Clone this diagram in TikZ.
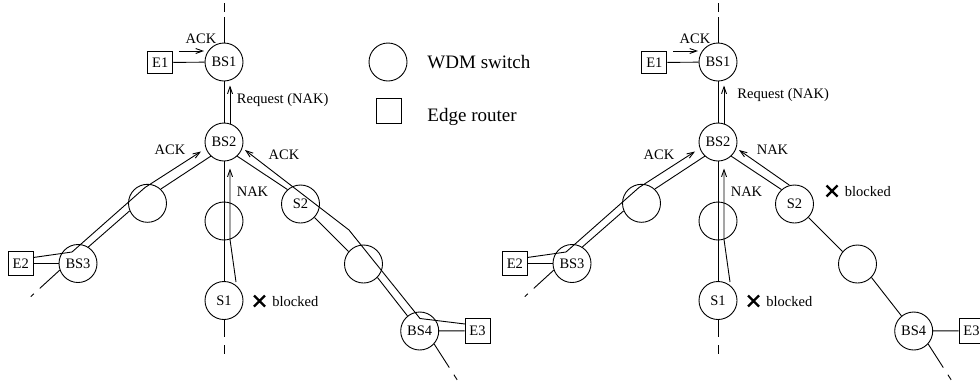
\documentclass[tikz,border=0pt]{standalone}
\usepackage{fontspec}
\setmainfont{Liberation Serif}
\usetikzlibrary{arrows.meta,calc}
\newcommand{\lblfont}{\fontsize{14.5}{17}\selectfont}
\newcommand{\legfont}{\fontsize{19}{22}\selectfont}
\tikzset{
  sw/.style={circle,draw,minimum size=38pt,inner sep=0pt,font=\lblfont},
  er/.style={rectangle,draw,minimum width=25pt,minimum height=24.5pt,inner sep=0pt,font=\lblfont},
  lbl/.style={inner sep=0pt,font=\lblfont},
  leg/.style={inner sep=0pt,font=\legfont,anchor=west},
  arr/.style={-{Straight Barb[length=7pt,width=5pt]}},
  xmark/.style={line width=2.2pt},
  extA/.style={dash pattern=on 26pt off 5pt on 8.5pt off 60pt},
  extB/.style={dash pattern=on 17.5pt off 8pt on 8.5pt off 60pt},
  extC/.style={dash pattern=on 27pt off 8pt on 5pt off 60pt},
  extD/.style={dash pattern=on 28pt off 8.5pt on 6pt off 60pt},
}
\newcommand{\netcommon}[1]{%
  % top part
  \node[sw] (#1BS1) at (224,62) {BS1};
  \node[er,minimum height=22pt] (#1E1) at (160.3,62.5) {E1};
  \draw[extA] (#1BS1.north) -- ++(0,-40);
  \draw (#1E1) -- (#1BS1);
  \coordinate (#1ackA) at (179,51);
  \coordinate (#1ackB) at (204,51);
  \draw[arr] (#1ackA) -- (#1ackB);
  \node[lbl] (#1ackT) at (201,39) {ACK};
  % BS2 and vertical branch
  \node[sw] (#1BS2) at (224,142) {BS2};
  \draw (#1BS1) -- (#1BS2);
  \draw[arr] (#1BS2.72) -- ($(#1BS1.-72)+(0,5)$);
  \node[sw] (#1M) at (224,221) {};
  \node[sw] (#1S1) at (224,300.5) {S1};
  \draw (#1BS2) -- (#1S1);
  \coordinate (#1nakS) at (236,282);
  \draw[arr] (#1nakS) -- (#1M.-72) -- ($(#1BS2.-72)+(0,8)$);
  \node[lbl] (#1nakT) at (252.5,192) {NAK};
  \draw[extB] (#1S1.south) -- ++(0,34);
  \draw[xmark] (254,295.5) -- (265,306.5) (254,306.5) -- (265,295.5);
  \node[lbl,anchor=west] (#1blkA) at (272,301.5) {blocked};
  % left branch
  \node[sw] (#1LU) at (147.5,203.3) {};
  \node[sw] (#1BS3) at (78,263.5) {BS3};
  \node[er] (#1E2) at (20.8,263.5) {E2};
  \draw (#1BS2.227) -- (#1LU.47);
  \draw (#1LU.203) -- (#1BS3.58);
  \draw (#1E2) -- (#1BS3);
  \draw[extC] (#1BS3.200) -- ++(-29,26.5);
  \coordinate (#1lpE2) at (33.3,257.5);
  \coordinate (#1lpB3) at (72,252);
  \coordinate (#1lpLU) at (145,187.5);
  \coordinate (#1lpTip) at (201,151.5);
  \draw[arr] (#1lpE2) -- (#1lpB3) -- (#1lpLU) -- (#1lpTip);
  % right branch
  \node[sw] (#1S2) at (300.5,204) {S2};
  \node[sw] (#1RU) at (363.5,264) {};
  \node[sw] (#1BS4) at (419.7,331) {BS4};
  \node[er,minimum height=25pt] (#1E3) at (477.5,330.8) {E3};
  \draw (#1BS2.-47) -- (#1S2.132);
  \draw (#1S2.-44) -- (#1RU.140);
  \draw (#1RU.-44) -- (#1BS4.129);
  \draw (#1BS4) -- (#1E3);
  \draw[extD] (#1BS4.-42) -- ++(23,35.8);
}
\begin{document}
\begin{tikzpicture}[x=1pt,y=-1pt,line width=0.9pt]
\useasboundingbox (0,0) rectangle (980,381);
% ---------- left diagram ----------
\netcommon{L}
\node[lbl,anchor=west] (LreqT) at (236.5,100) {Request (NAK)};
\node[lbl] (LackL) at (170,149.5) {ACK};
\node[lbl] (LackR) at (284,155) {ACK};
\coordinate (LlpE3) at (465,324);
\coordinate (LlpB4) at (420,318.5);
\coordinate (LlpRU) at (349,230);
\coordinate (LlpTip2) at (245,150);
\draw[arr] (LlpE3) -- (LlpB4) -- (LlpRU) -- (LlpTip2);
% legend
\node[sw] (legC) at (388,62) {};
\node[er] (legS) at (388.5,111) {};
\node[leg] (legCT) at (427,62) {WDM switch};
\node[leg] (legST) at (427,117) {Edge router};
% ---------- right diagram ----------
\begin{scope}[xshift=494pt]
\netcommon{R}
\node[lbl,anchor=west] (RreqT) at (243,95) {Request (NAK)};
\node[lbl] (RackL) at (165,155) {ACK};
\node[lbl] (RnakR) at (278.5,149.5) {NAK};
\coordinate (RlpTip2) at (245,150);
\draw[arr] (RS2.105) -- (RlpTip2);
\draw[xmark] (332.5,185.5) -- (343.5,196.5) (332.5,196.5) -- (343.5,185.5);
\node[lbl,anchor=west] (RblkB) at (350.5,191.5) {blocked};
\end{scope}
\end{tikzpicture}
\end{document}
